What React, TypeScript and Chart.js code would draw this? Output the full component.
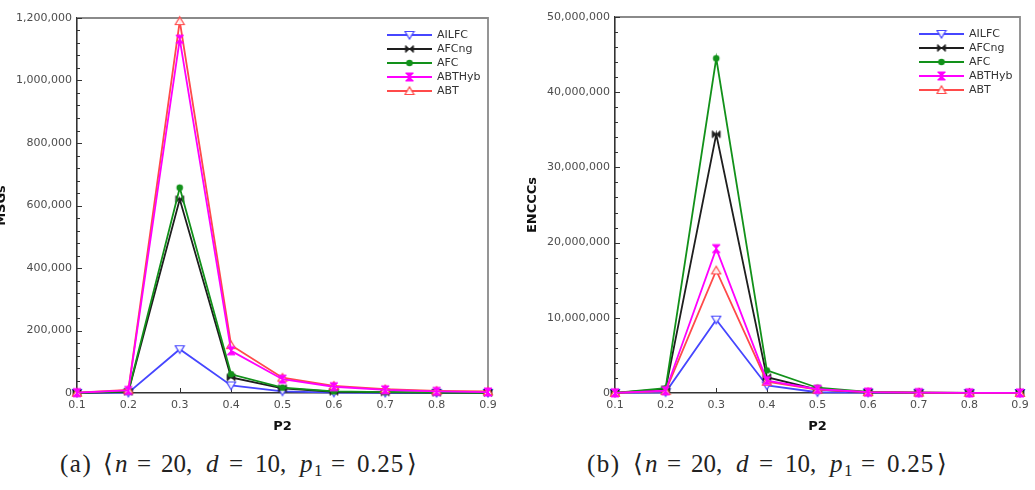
import React, { useEffect, useRef } from 'react';
import { Chart, registerables } from 'chart.js';

Chart.register(...registerables);

// x values (P2)
const P2_LABELS = ['0.1', '0.2', '0.3', '0.4', '0.5', '0.6', '0.7', '0.8', '0.9'];

// MSGs per algorithm
const MSG_AILFC = [500, 1000, 140000, 24000, 5000, 1500, 800, 500, 400];
const MSG_AFCNG = [500, 4000, 620000, 50000, 15000, 4000, 2000, 1000, 700];
const MSG_AFC = [500, 5000, 657000, 60000, 17000, 5000, 2500, 1200, 800];
const MSG_ABTHYB = [1000, 8000, 1132000, 135000, 44000, 20000, 10000, 5000, 3000];
const MSG_ABT = [1000, 10000, 1190000, 153000, 49000, 23000, 12000, 7000, 5000];

// ENCCCs per algorithm
const ENC_AILFC = [20000, 100000, 9750000, 1000000, 100000, 50000, 20000, 10000, 5000];
const ENC_AFCNG = [30000, 500000, 34400000, 2100000, 450000, 100000, 40000, 20000, 10000];
const ENC_AFC = [30000, 650000, 44500000, 3000000, 700000, 150000, 50000, 20000, 10000];
const ENC_ABTHYB = [20000, 300000, 19200000, 1650000, 500000, 120000, 50000, 20000, 10000];
const ENC_ABT = [20000, 250000, 16300000, 1500000, 450000, 110000, 50000, 20000, 10000];

const SERIES_NAMES = ['AILFC', 'AFCng', 'AFC', 'ABTHyb', 'ABT'];
const SERIES_COLORS = ['#4646ff', '#1e1e1e', '#12911a', '#ff00ff', '#ff4a4a'];
const SERIES_MARKERS = ['triDown', 'bowtie', 'circle', 'hourglass', 'triUp'];
// lower value = drawn on top
const SERIES_ORDER = [4, 3, 2, 0, 1];

// y-axis ticks
const MSG_MAX = 1200000;
const MSG_STEP = 200000;
const MSG_MINOR = 40000;
const ENC_MAX = 50000000;
const ENC_STEP = 10000000;
const ENC_MINOR = 2000000;

const SANS = '"DejaVu Sans", sans-serif';
const SERIF = '"Liberation Serif", "DejaVu Serif", serif';

function makeMarker(kind: string, color: string): HTMLCanvasElement {
  const s = 12;
  const c = document.createElement('canvas');
  c.width = s;
  c.height = s;
  const g = c.getContext('2d')!;
  const m = s / 2;
  g.strokeStyle = color;
  g.fillStyle = color;
  g.lineWidth = 1.2;
  g.beginPath();
  if (kind === 'triDown') {
    g.moveTo(m - 4.5, m - 3.5);
    g.lineTo(m + 4.5, m - 3.5);
    g.lineTo(m, m + 4);
    g.closePath();
    g.fillStyle = 'rgba(255,255,255,0.9)';
    g.fill();
    g.stroke();
  } else if (kind === 'triUp') {
    g.moveTo(m - 4.5, m + 3.5);
    g.lineTo(m + 4.5, m + 3.5);
    g.lineTo(m, m - 4);
    g.closePath();
    g.fillStyle = 'rgba(255,255,255,0.9)';
    g.fill();
    g.stroke();
  } else if (kind === 'bowtie') {
    g.moveTo(m - 4, m - 3.5);
    g.lineTo(m - 4, m + 3.5);
    g.lineTo(m, m);
    g.closePath();
    g.moveTo(m + 4, m - 3.5);
    g.lineTo(m + 4, m + 3.5);
    g.lineTo(m, m);
    g.closePath();
    g.fill();
    g.lineWidth = 0.8;
    g.stroke();
  } else if (kind === 'hourglass') {
    g.moveTo(m - 4, m - 4);
    g.lineTo(m + 4, m - 4);
    g.lineTo(m, m);
    g.closePath();
    g.moveTo(m - 4, m + 4);
    g.lineTo(m + 4, m + 4);
    g.lineTo(m, m);
    g.closePath();
    g.fill();
    g.lineWidth = 1;
    g.stroke();
  } else {
    g.arc(m, m, 3.3, 0, Math.PI * 2);
    g.fill();
  }
  return c;
}

// frame, inward ticks and the in-plot legend
const framePlugin = {
  id: 'frame',
  beforeDatasetsDraw(chart: any, _args: any, opts: any) {
    const { ctx, chartArea: a, scales } = chart;
    const x = scales.x;
    const y = scales.y;
    ctx.save();
    ctx.strokeStyle = '#8a8a8a';
    ctx.lineWidth = 1.8;
    ctx.beginPath();
    ctx.moveTo(a.left, a.top);
    ctx.lineTo(a.right, a.top);
    ctx.lineTo(a.right, a.bottom);
    ctx.stroke();

    ctx.strokeStyle = '#333';
    ctx.lineWidth = 1;
    ctx.beginPath();
    const nMinor = Math.round((y.max - y.min) / opts.minorStep);
    const perMajor = Math.round(opts.majorStep / opts.minorStep);
    for (let i = 0; i <= nMinor; i++) {
      const v = y.min + i * opts.minorStep;
      const py = Math.round(y.getPixelForValue(v)) + 0.5;
      const len = i % perMajor === 0 ? 5 : 3;
      ctx.moveTo(a.left, py);
      ctx.lineTo(a.left + len, py);
    }
    for (let i = 0; i < x.ticks.length; i++) {
      const px = Math.round(x.getPixelForTick(i)) + 0.5;
      ctx.moveTo(px, a.bottom);
      ctx.lineTo(px, a.bottom - 5);
    }
    ctx.stroke();
    ctx.restore();
  },
  afterDraw(chart: any) {
    const { ctx, chartArea: a } = chart;
    const x0 = a.right - 101;
    ctx.save();
    ctx.font = `11px ${SANS}`;
    ctx.textBaseline = 'middle';
    ctx.textAlign = 'left';
    chart.data.datasets.forEach((ds: any, i: number) => {
      const yy = a.top + 17 + i * 14;
      ctx.strokeStyle = ds.borderColor;
      ctx.lineWidth = 1.8;
      ctx.beginPath();
      ctx.moveTo(x0, yy);
      ctx.lineTo(x0 + 45, yy);
      ctx.stroke();
      const img = ds.pointStyle as HTMLCanvasElement;
      ctx.drawImage(img, x0 + 22.5 - img.width / 2, yy - img.height / 2);
      ctx.fillStyle = '#333';
      ctx.fillText(ds.label, x0 + 50, yy + 0.5);
    });
    ctx.restore();
  },
};

interface PanelSpec {
  values: number[][];
  yTitle: string;
  max: number;
  step: number;
  minor: number;
  yWidth: number;
  titlePad: number;
  padTop: number;
  padRight: number;
}

function buildConfig(spec: PanelSpec): any {
  const tickFont = { family: SANS, size: 11 };
  const titleFont = { family: SANS, size: 13, weight: 'bold' as const };
  return {
    type: 'line',
    data: {
      labels: P2_LABELS,
      datasets: SERIES_NAMES.map((name, i) => ({
        label: name,
        data: spec.values[i],
        borderColor: SERIES_COLORS[i],
        backgroundColor: SERIES_COLORS[i],
        borderWidth: 1.8,
        pointStyle: makeMarker(SERIES_MARKERS[i], SERIES_COLORS[i]),
        pointRadius: 4,
        pointHoverRadius: 4,
        tension: 0,
        fill: false,
        order: SERIES_ORDER[i],
        clip: 10,
      })),
    },
    options: {
      responsive: false,
      animation: false,
      events: [],
      layout: { padding: { top: spec.padTop, right: spec.padRight, left: 0, bottom: 0 } },
      scales: {
        x: {
          type: 'category',
          offset: false,
          grid: { display: false, drawTicks: false },
          border: { display: true, color: '#333', width: 1.6 },
          ticks: { font: tickFont, color: '#4d4d4d', padding: 6, maxRotation: 0, autoSkip: false },
          title: { display: true, text: 'P2', font: titleFont, color: '#111', padding: { top: 0, bottom: 6 } },
          afterFit: (s: any) => {
            s.height = 47;
          },
        },
        y: {
          type: 'linear',
          min: 0,
          max: spec.max,
          grid: { display: false, drawTicks: false },
          border: { display: true, color: '#333', width: 1.6 },
          ticks: {
            stepSize: spec.step,
            font: tickFont,
            color: '#4d4d4d',
            padding: 5,
            callback: (v: any) => Number(v).toLocaleString('en-US'),
          },
          title: {
            display: true,
            text: spec.yTitle,
            font: titleFont,
            color: '#111',
            padding: { top: spec.titlePad, bottom: 0 },
          },
          afterFit: (s: any) => {
            s.width = spec.yWidth;
          },
        },
      },
      plugins: {
        legend: { display: false },
        tooltip: { enabled: false },
        frame: { majorStep: spec.step, minorStep: spec.minor },
      },
    },
    plugins: [framePlugin],
  };
}

function Panel(props: { spec: PanelSpec; left: number; width: number }) {
  const ref = useRef<HTMLCanvasElement>(null);
  useEffect(() => {
    const chart = new Chart(ref.current!, buildConfig(props.spec));
    return () => chart.destroy();
  }, []);
  return (
    <canvas
      ref={ref}
      width={props.width}
      height={440}
      style={{ position: 'absolute', left: props.left, top: 0, width: props.width, height: 440 }}
    />
  );
}

// caption pieces: [text, x offset from the opening bracket, italic, subscript]
const CAPTION_PARTS: [string, number, boolean, boolean][] = [
  ['\u27e8', 0, false, false],
  ['n', 12, true, false],
  ['=', 34, false, false],
  ['20,', 58, false, false],
  ['d', 103, true, false],
  ['=', 126, false, false],
  ['10,', 152, false, false],
  ['p', 197, true, false],
  ['1', 211, false, true],
  ['=', 228, false, false],
  ['0.25', 254, false, false],
  ['\u27e9', 304, false, false],
];

function Caption(props: { tag: string; left: number; bracket: number }) {
  const base: React.CSSProperties = {
    position: 'absolute',
    fontFamily: SERIF,
    fontSize: 25,
    lineHeight: 1,
    color: '#222',
    whiteSpace: 'nowrap',
    top: 451,
  };
  return (
    <>
      <span style={{ ...base, left: props.left, letterSpacing: 1.5 }}>{props.tag}</span>
      {CAPTION_PARTS.map(([t, dx, it, sub], i) => (
        <span
          key={i}
          style={{
            ...base,
            left: props.bracket + dx,
            fontStyle: it ? 'italic' : 'normal',
            fontSize: sub ? 17 : 25,
            top: sub ? 461.8 : 451,
            letterSpacing: t === '0.25' ? 0.8 : 0,
          }}
        >
          {t}
        </span>
      ))}
    </>
  );
}

const MSG_SPEC: PanelSpec = {
  values: [MSG_AILFC, MSG_AFCNG, MSG_AFC, MSG_ABTHYB, MSG_ABT],
  yTitle: 'MSGs',
  max: MSG_MAX,
  step: MSG_STEP,
  minor: MSG_MINOR,
  yWidth: 83,
  titlePad: 0,
  padTop: 18,
  padRight: 16,
};

const ENC_SPEC: PanelSpec = {
  values: [ENC_AILFC, ENC_AFCNG, ENC_AFC, ENC_ABTHYB, ENC_ABT],
  yTitle: 'ENCCCs',
  max: ENC_MAX,
  step: ENC_STEP,
  minor: ENC_MINOR,
  yWidth: 100,
  titlePad: 10,
  padTop: 17,
  padRight: 15,
};

export default function App() {
  return (
    <div
      style={{
        position: 'absolute',
        left: 0,
        top: 0,
        width: 1035,
        height: 490,
        overflow: 'hidden',
        background: '#fff',
      }}
    >
      <Panel spec={MSG_SPEC} left={-6} width={510} />
      <Panel spec={ENC_SPEC} left={515} width={520} />
      <Caption tag="(a)" left={60} bracket={103} />
      <Caption tag="(b)" left={587} bracket={633} />
    </div>
  );
}
